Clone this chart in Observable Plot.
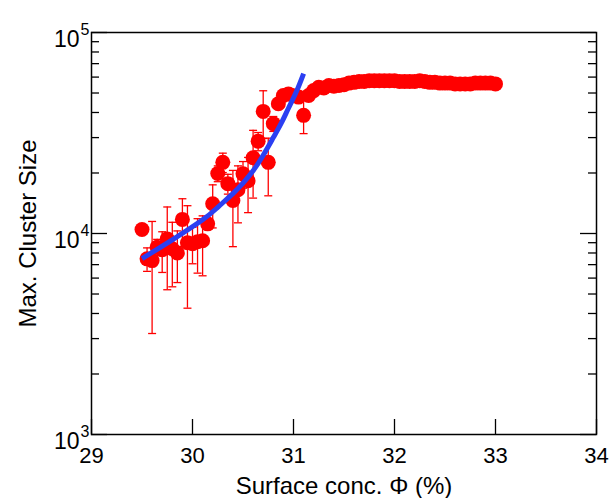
<!DOCTYPE html>
<html>
<head>
<meta charset="utf-8">
<script src="https://cdn.jsdelivr.net/npm/d3@7"></script>
<script src="https://cdn.jsdelivr.net/npm/@observablehq/plot@0.6"></script>
<style>
  html, body { margin: 0; padding: 0; background: #fff; }
  #chart svg { display: block; }
</style>
</head>
<body>
<div id="chart"></div>
<script>
// ---- data ----
const phi = [
  29.50, 29.55, 29.60, 29.65, 29.70, 29.75, 29.80, 29.85, 29.90, 29.95,
  30.00, 30.05, 30.10, 30.15, 30.20, 30.25, 30.30, 30.35, 30.40, 30.45,
  30.50, 30.55, 30.60, 30.65, 30.70, 30.75, 30.80, 30.85, 30.90, 30.95,
  31.00, 31.05, 31.10, 31.15, 31.20, 31.25, 31.30, 31.35, 31.40, 31.45,
  31.50, 31.55, 31.60, 31.65, 31.70, 31.75, 31.80, 31.85, 31.90, 31.95,
  32.00, 32.05, 32.10, 32.15, 32.20, 32.25, 32.30, 32.35, 32.40, 32.45,
  32.50, 32.55, 32.60, 32.65, 32.70, 32.75, 32.80, 32.85, 32.90, 32.95,
  33.00
];
const clusterSize = [
  10470, 7480, 7330, 8550, 8300, 9400, 8400, 8000, 11750, 9000,
  8900, 9100, 9200, 11170, 14060, 19900, 22600, 17700, 14600, 16500,
  19800, 18300, 23800, 28800, 40500, 22600, 35200, 44200, 48600, 49500,
  48500, 47700, 38700, 48600, 51400, 53400, 53000, 54500, 54000, 54500,
  55000, 56000, 56500, 57000, 57000, 57500, 57500, 57500, 57500, 57500,
  57500, 57000, 57000, 57000, 57000, 57500, 57000, 56500, 56500, 56000,
  56000, 56000, 55500, 55500, 55500, 55500, 56000, 56000, 56000, 56000,
  55500
];
const sizeError = [
  0, 1000, 4150, 800, 1900, 4150, 2970, 2300, 3140, 4750,
  1830, 2750, 3040, 700, 3400, 1800, 2500, 2000, 6000, 5200,
  3000, 5600, 8800, 3000, 10800, 7200, 3000, 2500, 2000, 2000,
  2000, 2000, 7300, 2500, 1500, 1500, 1500, 1500, 1500, 1500,
  1500, 1500, 1500, 1500, 1500, 1500, 1500, 1500, 1500, 1500,
  1500, 1500, 1500, 1500, 1500, 1500, 1500, 1500, 1500, 1500,
  1500, 1500, 1500, 1500, 1500, 1500, 1500, 1500, 1500, 1500,
  1500
];
// blue fit curve
const fitPhi  = [29.50, 29.80, 30.10, 30.25, 30.40, 30.50, 30.60, 30.70, 30.80, 30.88, 30.95, 31.03, 31.10];
const fitSize = [7500, 9300, 11700, 13500, 15800, 17800, 20500, 24500, 30000, 35500, 42000, 51000, 62500];

// ticks
const xTicks = [29, 30, 31, 32, 33, 34];
const yMajorTicks = [1000, 10000, 100000];
const yExponents = ["3", "4", "5"];
const yMinorTicks = [2000, 3000, 4000, 5000, 6000, 7000, 8000, 9000,
                     20000, 30000, 40000, 50000, 60000, 70000, 80000, 90000];

const xLabel = "Surface conc. \u03A6 (%)";
const yLabel = "Max. Cluster Size";

// ---- build ----
const points = phi.map((p, i) => ({x: p, y: clusterSize[i], e: sizeError[i]}));
const fit = fitPhi.map((p, i) => ({x: p, y: fitSize[i]}));

const W = 612, H = 498;
const mL = 91, mR = 16, mT = 32, mB = 64;
const fw = W - mL - mR, fh = H - mT - mB;
const red = "#ff0000";
const capSymbol = { draw(ctx) { ctx.moveTo(-4, 0); ctx.lineTo(4, 0); } };

const chart = Plot.plot({
  width: W, height: H,
  marginLeft: mL, marginRight: mR, marginTop: mT, marginBottom: mB,
  x: {domain: [29, 34], axis: null},
  y: {type: "log", domain: [1e3, 1e5], axis: null},
  style: {fontFamily: "'Liberation Sans', Arial, Helvetica, sans-serif", background: "#fff", color: "#000"},
  marks: [
    // error bars
    Plot.ruleX(points.filter(d => d.e > 0), {x: "x", y1: d => d.y - d.e, y2: d => d.y + d.e, stroke: red, strokeWidth: 1.3}),
    Plot.dot(points.filter(d => d.e > 0), {x: "x", y: d => d.y + d.e, symbol: capSymbol, r: 4, stroke: red, strokeWidth: 1.3, fill: "none"}),
    Plot.dot(points.filter(d => d.e > 0), {x: "x", y: d => d.y - d.e, symbol: capSymbol, r: 4, stroke: red, strokeWidth: 1.3, fill: "none"}),
    // markers
    Plot.dot(points, {x: "x", y: "y", r: 7.5, fill: red, stroke: "none"}),
    // fit
    Plot.line(fit, {x: "x", y: "y", stroke: "#2b3ff2", strokeWidth: 5, curve: "natural", strokeLinecap: "butt"}),
    // inward ticks
    Plot.ruleY(yMajorTicks, {stroke: "#000", strokeWidth: 1.3, insetRight: fw - 16}),
    Plot.ruleY(yMajorTicks, {stroke: "#000", strokeWidth: 1.3, insetLeft: fw - 16}),
    Plot.ruleY(yMinorTicks, {stroke: "#000", strokeWidth: 1.3, insetRight: fw - 8}),
    Plot.ruleY(yMinorTicks, {stroke: "#000", strokeWidth: 1.3, insetLeft: fw - 8}),
    Plot.ruleX(xTicks, {stroke: "#000", strokeWidth: 1.3, insetTop: fh - 15}),
    Plot.frame({stroke: "#000", strokeWidth: 1.5}),
    // tick labels
    Plot.text(xTicks, {x: d => d, frameAnchor: "bottom", dy: 13, lineAnchor: "top", textAnchor: "middle", fontSize: 22, fill: "#000"}),
    Plot.text(yMajorTicks, {y: d => d, text: () => "10", frameAnchor: "left", dx: -2, dy: 7, textAnchor: "end", lineAnchor: "middle", fontSize: 23, fill: "#000"}),
    // axis titles
    Plot.text([xLabel], {frameAnchor: "bottom", dy: 52, lineAnchor: "middle", textAnchor: "middle", fontSize: 24, fill: "#000"}),
    Plot.text([yLabel], {frameAnchor: "left", dx: -63, rotate: -90, lineAnchor: "middle", textAnchor: "middle", fontSize: 24, fill: "#000"})
  ]
});
document.getElementById("chart").appendChild(chart);

// superscript exponents appended to the "10" tick labels (whole label ends just left of the axis)
const baseTexts = Array.from(chart.querySelectorAll("text")).filter(t => t.textContent === "10");
baseTexts.forEach((t, k) => {
  const idx = (typeof d3.select(t).datum() === "number" && d3.select(t).datum() < yExponents.length) ? d3.select(t).datum() : k;
  const ts = document.createElementNS("http://www.w3.org/2000/svg", "tspan");
  ts.setAttribute("font-size", "16");
  ts.setAttribute("dx", "1");
  ts.setAttribute("dy", "-12");
  ts.textContent = yExponents[idx];
  t.appendChild(ts);
});
</script>
</body>
</html>
